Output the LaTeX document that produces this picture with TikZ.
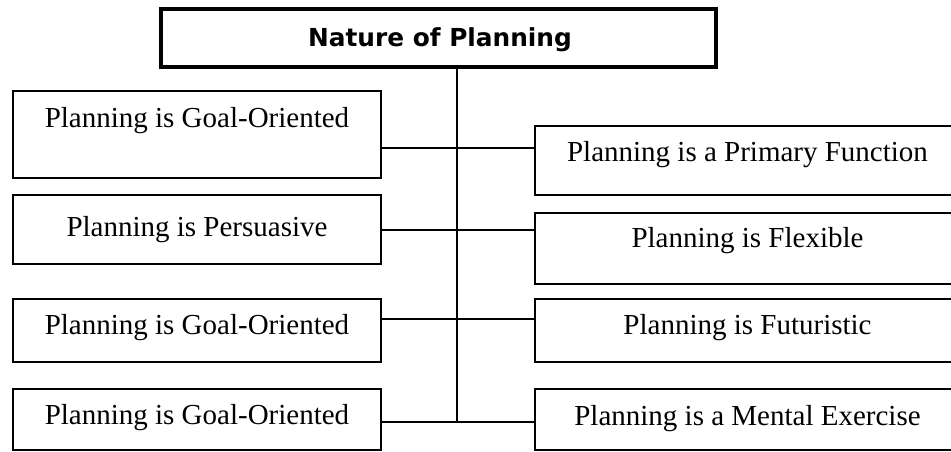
\documentclass[tikz,border=0pt]{standalone}
\usepackage{fontspec}
\setmainfont{Liberation Serif}
\newfontfamily\titlefont{DejaVu Sans}
\begin{document}
\begin{tikzpicture}[x=1pt,y=-1pt,
  box/.style={draw=black, line width=1.8pt, rectangle, inner sep=0pt, outer sep=0pt},
  lbox/.style={box, minimum width=368pt},
  rbox/.style={box, minimum width=425pt},
  titlebox/.style={draw=black, line width=4.2pt, rectangle, inner sep=0pt, outer sep=0pt, minimum width=555pt, minimum height=58pt},
  txt/.style={anchor=base, inner sep=0pt, font=\fontsize{29}{34}\selectfont},
  ttl/.style={anchor=base, inner sep=0pt, font=\titlefont\bfseries\fontsize{24.8}{30}\selectfont},
  conn/.style={draw=black, line width=1.8pt}]
\useasboundingbox (0,0) rectangle (951,452);
\clip (0,0) rectangle (951,452);
% title
\node[titlebox] (title) at (438.5,38) {};
\node[ttl] (titletext) at (440,47) {Nature of Planning};
% left boxes
\node[lbox, minimum height=87pt] (l1) at (197,134.5) {};
\node[lbox, minimum height=69pt] (l2) at (197,229.5) {};
\node[lbox, minimum height=63pt] (l3) at (197,330.5) {};
\node[lbox, minimum height=61pt] (l4) at (197,419.5) {};
% right boxes
\node[rbox, minimum height=69pt] (r1) at (747.5,160.5) {};
\node[rbox, minimum height=71pt] (r2) at (747.5,248.5) {};
\node[rbox, minimum height=63pt] (r3) at (747.5,330.5) {};
\node[rbox, minimum height=61pt] (r4) at (747.5,419.5) {};
% texts
\node[txt] (tl1) at (197,127) {Planning is Goal-Oriented};
\node[txt] (tl2) at (197,236) {Planning is Persuasive};
\node[txt] (tl3) at (197,334) {Planning is Goal-Oriented};
\node[txt] (tl4) at (197,424) {Planning is Goal-Oriented};
\node[txt] (tr1) at (747.5,161) {Planning is a Primary Function};
\node[txt] (tr2) at (747.5,247) {Planning is Flexible};
\node[txt] (tr3) at (747.5,334) {Planning is Futuristic};
\node[txt] (tr4) at (747.5,425) {Planning is a Mental Exercise};
% junctions on trunk
\coordinate (j1) at (457,148);
\coordinate (j2) at (457,230);
\coordinate (j3) at (457,319);
\coordinate (j4) at (457,422);
% trunk
\draw[conn] (title.south -| j1) -- (j4);
% branches
\draw[conn] (l1.east |- j1) -- (r1.west |- j1);
\draw[conn] (l2.east |- j2) -- (r2.west |- j2);
\draw[conn] (l3.east |- j3) -- (r3.west |- j3);
\draw[conn] (l4.east |- j4) -- (r4.west |- j4);
\end{tikzpicture}
\end{document}
